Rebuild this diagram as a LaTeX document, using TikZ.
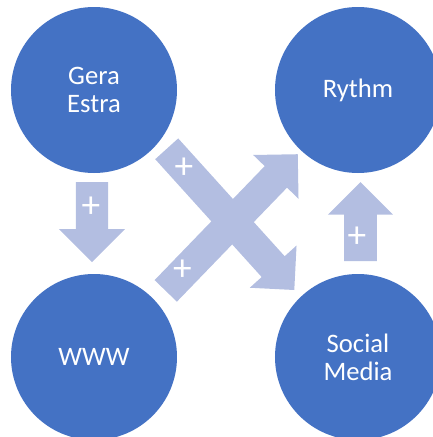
\documentclass[tikz,border=0pt]{standalone}
\usepackage{fontspec}
\setmainfont{Carlito}
\usepackage{xcolor}
\definecolor{topicblue}{HTML}{4472C4}
\definecolor{arrowlilac}{HTML}{B3BEE1}

% block arrow: {centre}{angle}{length}{shaft half width}{head half width}
\newcommand{\blockarrow}[5]{%
  \begin{scope}[shift={#1}, rotate=#2]
    \fill[arrowfill] ({-#3/2},-#4) -- ({#3/2-#5},-#4) -- ({#3/2-#5},-#5)
      -- ({#3/2},0) -- ({#3/2-#5},#5) -- ({#3/2-#5},#4) -- ({-#3/2},#4) -- cycle;
  \end{scope}}

\begin{document}
\begin{tikzpicture}[
  x=0.75pt,
  y=-0.75pt,
  topicnode/.style={
    circle,
    fill=topicblue,
    draw=none,
    minimum size=124.5pt,
    inner sep=0pt,
    align=center,
    text=white,
    font=\fontsize{20}{21}\selectfont
  },
  arrowfill/.style={
    fill=arrowlilac,
    draw=none
  },
  plussign/.style={
    text=white,
    inner sep=0pt,
    font=\fontsize{28}{28}\selectfont
  }
]

\useasboundingbox (0,0) rectangle (433,437);
\clip (0,0) rectangle (433,437);

\node[topicnode] (gera) at (94,90) {Gera\\Estra};
\node[topicnode] (rythm) at (358,90) {Rythm};
\node[topicnode] (www) at (94,357) {WWW};
\node[topicnode] (social) at (358,357) {Social\\Media};

\blockarrow{(92,222)}{-90}{80}{16.2}{33}
\blockarrow{(360.5,221.5)}{90}{79}{16.4}{32.5}
\blockarrow{(230.5,219.4)}{-47.9}{190.3}{15.5}{31.5}
\blockarrow{(231.75,222.55)}{46}{190}{15.5}{31.5}

\node[plussign] (plusdown) at (91,207) {+};
\node[plussign] (plusup) at (357,237) {+};
\node[plussign] (plusdiaga) at (184,168.5) {+};
\node[plussign] (plusdiagb) at (182.5,270) {+};

\end{tikzpicture}
\end{document}
